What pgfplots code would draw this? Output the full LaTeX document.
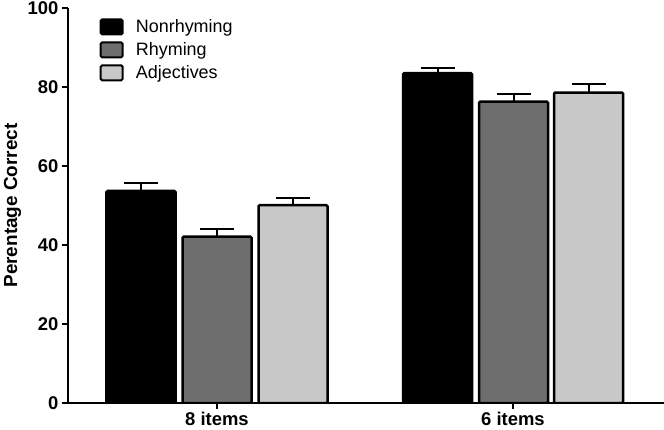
\documentclass[border=0pt]{standalone}
\usepackage{pgfplots}
\pgfplotsset{compat=1.18}
\usepackage{fontspec}
\setmainfont{Liberation Sans}
\usetikzlibrary{calc}
\definecolor{darkg}{HTML}{6E6E6E}
\definecolor{lightg}{HTML}{C8C8C8}
\pgfplotsset{
  myerr/.style={error bars/.cd, y dir=plus, y explicit,
    error bar style={line width=2bp, black, rounded corners=0pt},
    error mark options={line width=2bp, black, mark size=17bp, rotate=90}},
}
\begin{document}
\begin{tikzpicture}
\begin{axis}[
  name=ax,
  scale only axis,
  width=596bp, height=395bp,
  xmin=68, xmax=664, ymin=0, ymax=100,
  axis x line=bottom, axis y line=left,
  axis line style={-, line width=2bp},
  tick style={line width=2bp, black},
  tick align=outside,
  major tick length=6bp,
  xtick={217,513}, xticklabels={8 items, 6 items},
  ytick={0,20,40,60,80,100},
  /pgf/number format/assume math mode=true,
  ticklabel style={font=\bfseries\fontsize{18.5}{20}\selectfont},
  ylabel={Perentage Correct},
  ylabel style={font=\bfseries\fontsize{19}{22}\selectfont, at={(axis description cs:-0.093,0.5)}, anchor=center},
  ybar, bar width=69bp, bar shift=0pt,
  every axis plot/.append style={draw=black, line width=2.5bp, rounded corners=1.2bp},
  legend style={at={(axis cs:99.5,97.6)}, anchor=north west, draw=none, fill=none,
    font=\fontsize{18}{22}\selectfont, row sep=4.5bp, inner sep=0pt},
  legend cell align=left,
  legend image code/.code={\draw[#1, line width=2bp, rounded corners=1.5bp] (0bp,-7.5bp) rectangle (22bp,7.5bp); \path (32bp,0bp);},
]
\addplot[fill=black, myerr] coordinates {(141,53.7) +- (0,2.0) (437.5,83.5) +- (0,1.3)};
\addplot[fill=darkg, myerr] coordinates {(217,42.1) +- (0,1.9) (513.5,76.3) +- (0,2.0)};
\addplot[fill=lightg, myerr] coordinates {(293,50.1) +- (0,1.8) (588.5,78.6) +- (0,2.1)};
\legend{Nonrhyming, Rhyming, Adjectives}
\end{axis}
\pgfresetboundingbox
\path ($(ax.south west)+(-68bp,-27bp)$) rectangle ($(ax.north east)+(0bp,8bp)$);
\end{tikzpicture}
\end{document}
